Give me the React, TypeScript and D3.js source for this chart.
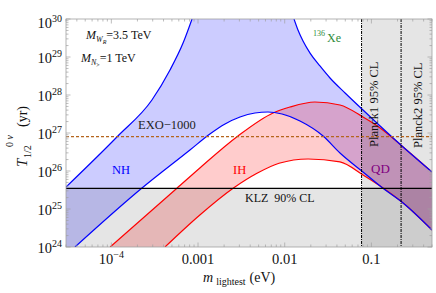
import React from 'react';
import * as d3 from 'd3';

const WIDTH = 436;
const HEIGHT = 293;
const PLOT = { left: 66, right: 432, top: 19, bottom: 247 };

// m_lightest (eV) and T_1/2 (yr)
const nhLowM = [3.81e-5, 2.24e-4, 8.07e-4, 1.37e-3, 2.05e-3, 3.05e-3, 4.54e-3, 6.41e-3, 9.31e-3, 0.015, 0.0277, 0.0434, 0.08, 0.136, 0.232, 0.5];
const nhLowT = [1e24, 3.51e25, 3.57e26, 9.42e26, 1.73e27, 2.64e27, 3.36e27, 3.57e27, 3.16e27, 2.07e27, 8.34e26, 2.98e26, 9.42e25, 3.51e25, 1.44e25, 2.8e24];

const nhUpLeftM = [3e-5, 1.19e-4, 2.94e-4, 4.75e-4, 6.72e-4, 8.53e-4];
const nhUpLeftT = [3.79e25, 8.34e26, 7.38e27, 4.55e28, 2.33e29, 1e30];

const nhUpRightM = [0.0128, 0.01422, 0.01626, 0.0196, 0.0255, 0.0333, 0.0497, 0.08, 0.232, 0.5];
const nhUpRightT = [1e30, 5.14e29, 2.64e29, 1.27e29, 5.8e28, 2.8e28, 1.13e28, 4.03e27, 4.29e26, 9.42e25];

const ihUpM = [9.7e-5, 5.71e-4, 1.05e-3, 2.89e-3, 7.33e-3, 0.0115, 0.0223, 0.0434, 0.08, 0.126, 0.232, 0.5];
const ihUpT = [1e24, 3.51e25, 1.2e26, 8.34e26, 3.36e27, 4.83e27, 6.55e27, 5.46e27, 2.64e27, 1.36e27, 4.29e26, 9.42e25];

const ihLowM = [4.16e-4, 1.05e-3, 2.54e-3, 4.79e-3, 8.6e-3, 0.0186, 0.0434, 0.08, 0.126, 0.232, 0.5];
const ihLowT = [1e24, 6.95e24, 3.51e25, 8.7e25, 1.6e26, 2.07e26, 1.73e26, 7.85e25, 4.03e25, 1.44e25, 2.8e24];

const klzLimit = 3.5e25;
const exoLimit = 8e26;
const planck1 = 0.077;
const planck2 = 0.22;

const xTicks = [1e-4, 1e-3, 1e-2, 1e-1];
const xTickLabels = ['10', '0.001', '0.01', '0.1'];
const yExps = [24, 25, 26, 27, 28, 29, 30];

const x = d3.scaleLog().domain([3e-5, 0.5]).range([PLOT.left, PLOT.right]);
const y = d3.scaleLog().domain([1e24, 1e30]).range([PLOT.bottom, PLOT.top]);

const pairs = (ms: number[], ts: number[]) => ms.map((m, i) => [m, ts[i]] as [number, number]);
const line = d3.line<[number, number]>()
  .x(d => x(d[0]))
  .y(d => y(d[1]))
  .curve(d3.curveMonotoneX);

const nhLow = pairs(nhLowM, nhLowT);
const nhUpLeft = pairs(nhUpLeftM, nhUpLeftT);
const nhUpRight = pairs(nhUpRightM, nhUpRightT);
const ihUp = pairs(ihUpM, ihUpT);
const ihLow = pairs(ihLowM, ihLowT);

const nhFill = line(nhUpLeft) + 'L' + line(nhUpRight)!.slice(1) + 'L' +
  line([...nhLow].reverse())!.slice(1) + `L${PLOT.left},${PLOT.bottom}Z`;
const ihFill = line(ihUp) + 'L' + line([...ihLow].reverse())!.slice(1) + 'Z';

// minor ticks
const xMinor: number[] = [];
for (let e = -5; e <= 0; e++) for (let k = 1; k <= 9; k++) {
  const v = k * Math.pow(10, e);
  if (v >= 3e-5 && v <= 0.5) xMinor.push(v);
}
const yMinor: number[] = [];
for (let e = 24; e < 30; e++) for (let k = 2; k <= 9; k++) yMinor.push(k * Math.pow(10, e));

const serif = '"Liberation Serif", "DejaVu Serif", serif';
const frame = '#a0a0a0';

export default function App() {
  return (
    <svg width={WIDTH} height={HEIGHT} style={{ position: 'absolute', left: 0, top: 0, background: '#fff' }} fontFamily={serif}>
      <defs>
        <clipPath id="plot">
          <rect x={PLOT.left} y={PLOT.top} width={PLOT.right - PLOT.left} height={PLOT.bottom - PLOT.top} />
        </clipPath>
      </defs>
      <g clipPath="url(#plot)">
        <path d={nhFill} fill="rgba(0,0,255,0.2)" />
        <path d={ihFill} fill="rgba(255,0,0,0.2)" />
        <rect x={PLOT.left} y={y(klzLimit)} width={PLOT.right - PLOT.left} height={PLOT.bottom - y(klzLimit)} fill="rgba(0,0,0,0.1)" />
        <rect x={x(planck1)} y={PLOT.top} width={PLOT.right - x(planck1)} height={PLOT.bottom - PLOT.top} fill="rgba(0,0,0,0.1)" />
        {[ihUp, ihLow].map((d, i) => (
          <path key={'ih' + i} d={line(d)!} fill="none" stroke="#ff0000" strokeWidth={1.2} />
        ))}
        {[nhLow, nhUpLeft, nhUpRight].map((d, i) => (
          <path key={'nh' + i} d={line(d)!} fill="none" stroke="#0000ff" strokeWidth={1.2} />
        ))}
        <line x1={PLOT.left} x2={PLOT.right} y1={y(klzLimit)} y2={y(klzLimit)} stroke="#000" strokeWidth={1.3} />
        <line x1={PLOT.left} x2={PLOT.right} y1={y(exoLimit)} y2={y(exoLimit)} stroke="#b5651d" strokeWidth={1.2} strokeDasharray="3,2" />
        {[planck1, planck2].map(p => (
          <line key={p} x1={x(p)} x2={x(p)} y1={PLOT.top} y2={PLOT.bottom} stroke="#000" strokeWidth={1} strokeDasharray="3,1,1,1" />
        ))}
      </g>

      {/* frame and ticks */}
      <rect x={PLOT.left} y={PLOT.top} width={PLOT.right - PLOT.left} height={PLOT.bottom - PLOT.top} fill="none" stroke={frame} strokeWidth={0.8} />
      {xMinor.map(v => {
        const major = xTicks.includes(v);
        const len = major ? 4.5 : 2.5;
        return (
          <g key={'xt' + v} stroke={frame} strokeWidth={0.7}>
            <line x1={x(v)} x2={x(v)} y1={PLOT.bottom} y2={PLOT.bottom - len} />
            <line x1={x(v)} x2={x(v)} y1={PLOT.top} y2={PLOT.top + len} />
          </g>
        );
      })}
      {yMinor.map(v => (
        <g key={'ym' + v} stroke={frame} strokeWidth={0.7}>
          <line x1={PLOT.left} x2={PLOT.left + 2.5} y1={y(v)} y2={y(v)} />
          <line x1={PLOT.right} x2={PLOT.right - 2.5} y1={y(v)} y2={y(v)} />
        </g>
      ))}
      {yExps.map(e => (
        <g key={'yM' + e} stroke={frame} strokeWidth={0.7}>
          <line x1={PLOT.left} x2={PLOT.left + 4.5} y1={y(Math.pow(10, e))} y2={y(Math.pow(10, e))} />
          <line x1={PLOT.right} x2={PLOT.right - 4.5} y1={y(Math.pow(10, e))} y2={y(Math.pow(10, e))} />
        </g>
      ))}

      {/* tick labels */}
      {yExps.map(e => (
        <text key={'yl' + e} x={62} y={y(Math.pow(10, e)) + (e === 30 ? 9 : 6)} textAnchor="end" fontSize={14.5} fill="#111">
          10<tspan dy={-6} fontSize={10}>{e}</tspan>
        </text>
      ))}
      {xTicks.map((v, i) => (
        <text key={'xl' + v} x={x(v)} y={264} textAnchor="middle" fontSize={14.5} fill="#111">
          {xTickLabels[i]}
          {i === 0 && <tspan dy={-6} fontSize={10}>−4</tspan>}
        </text>
      ))}

      {/* axis titles */}
      <text x={203} y={282} fontSize={14} fill="#111">
        <tspan fontStyle="italic">m</tspan>
        <tspan dx={3} dy={3} fontSize={10}>lightest</tspan>
        <tspan dx={4} dy={-3}>(eV)</tspan>
      </text>
      <g transform="translate(27,167) rotate(-90)" fill="#111">
        <text x={0} y={0} fontSize={15} fontStyle="italic">T</text>
        <text x={9} y={4} fontSize={10}>1/2</text>
        <text x={20} y={-14} fontSize={10}>0 <tspan fontStyle="italic">ν</tspan></text>
        <text x={40} y={0} fontSize={14}>(yr)</text>
      </g>

      {/* annotations */}
      <text x={86} y={39} fontSize={12} fill="#111">
        <tspan fontStyle="italic">M</tspan>
        <tspan dy={3} fontSize={8} fontStyle="italic">W</tspan>
        <tspan dy={1.5} fontSize={6} fontStyle="italic">R</tspan>
        <tspan dy={-4.5}>=3.5 TeV</tspan>
      </text>
      <text x={81} y={62} fontSize={12} fill="#111">
        <tspan fontStyle="italic">M</tspan>
        <tspan dy={3} fontSize={8} fontStyle="italic">N</tspan>
        <tspan dy={1.5} fontSize={6}>&gt;</tspan>
        <tspan dy={-4.5}>=1 TeV</tspan>
      </text>
      <text x={313} y={42} fontSize={12} fill="#2e8b3a">
        <tspan dy={-6} fontSize={8}>136</tspan>
        <tspan dx={2} dy={6}>Xe</tspan>
      </text>
      <text x={138} y={129} fontSize={12.5} fill="#222">EXO−1000</text>
      <text x={112} y={174} fontSize={12.5} fill="#0000ff">NH</text>
      <text x={233} y={174} fontSize={12.5} fill="#ff0000">IH</text>
      <text x={371} y={173} fontSize={13} fill="#800080">QD</text>
      <text x={245} y={202} fontSize={12} fill="#111" style={{ whiteSpace: 'pre' }}>KLZ  90% CL</text>
      <text transform="translate(378,147) rotate(-90)" fontSize={12.5} fill="#111">Planck1 95% CL</text>
      <text transform="translate(422,148) rotate(-90)" fontSize={12.5} fill="#111">Planck2 95% CL</text>
    </svg>
  );
}
